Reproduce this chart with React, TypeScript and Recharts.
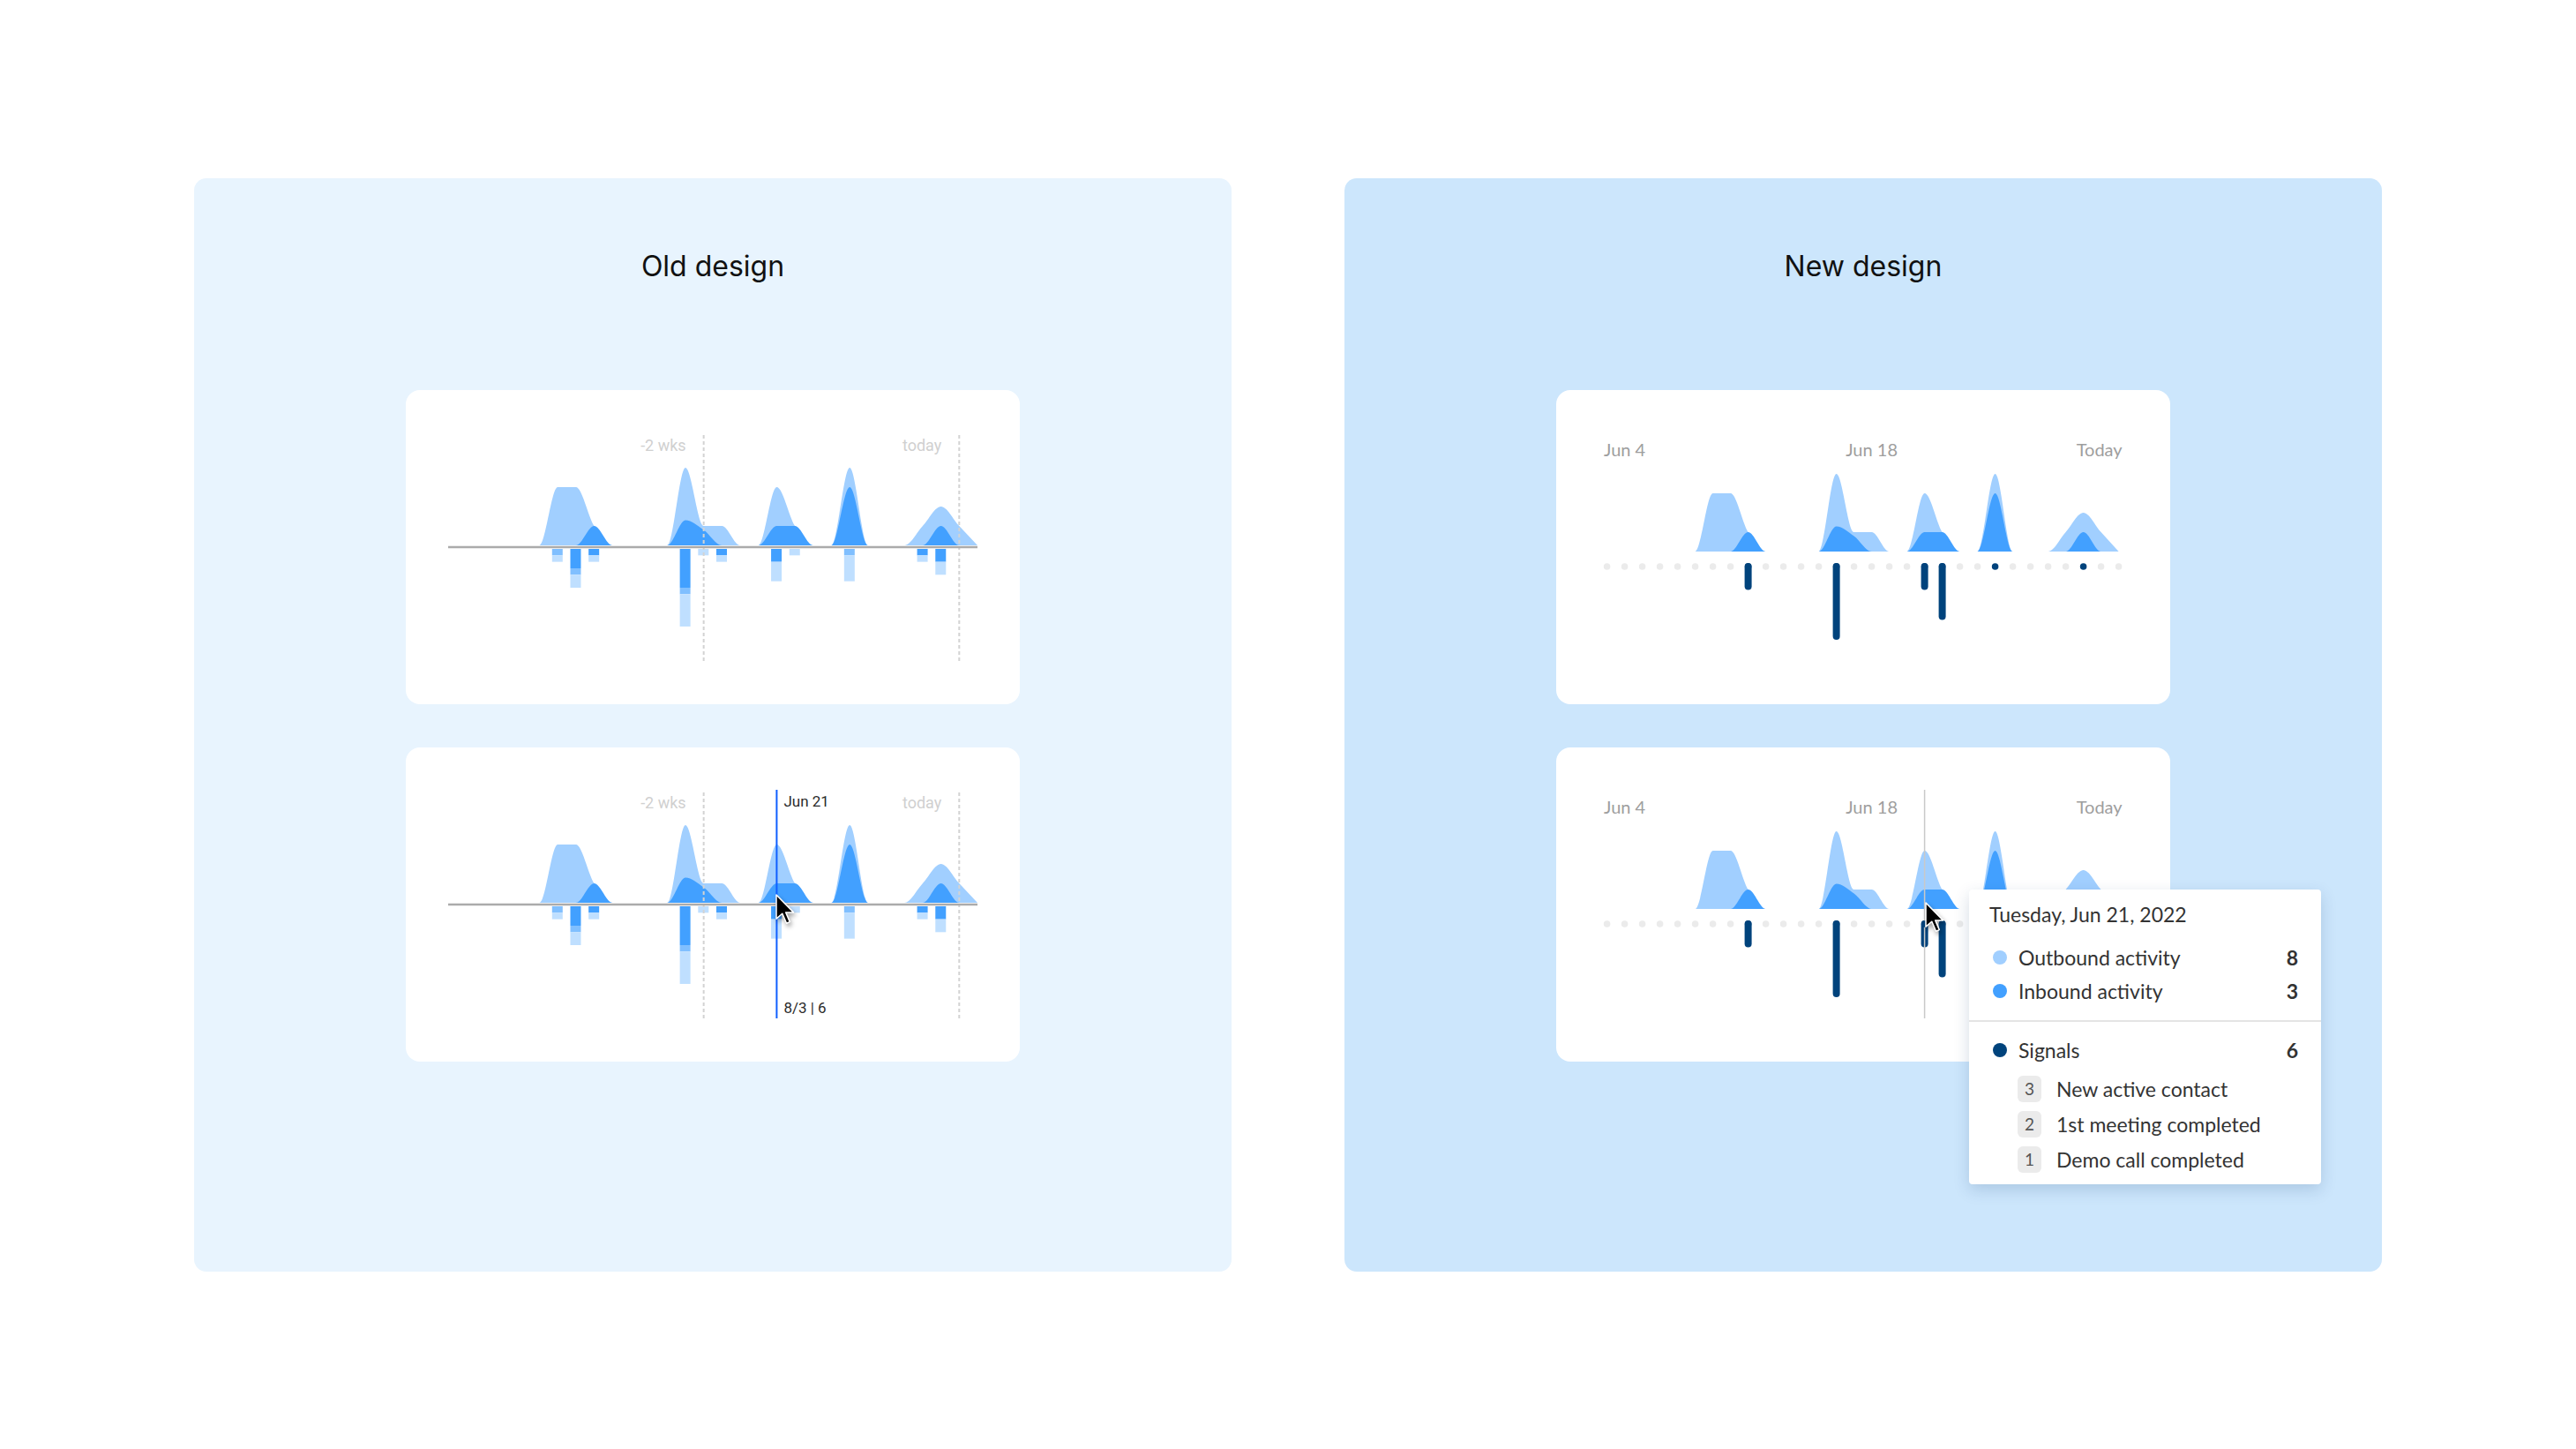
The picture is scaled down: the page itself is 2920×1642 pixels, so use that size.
import React from 'react';
import { ComposedChart, Area, Bar, Line, XAxis, YAxis, ReferenceLine } from 'recharts';

// 30 days, Jun 3 -> Jul 2 (today)
const days = [
  'Jun 3', 'Jun 4', 'Jun 5', 'Jun 6', 'Jun 7', 'Jun 8', 'Jun 9', 'Jun 10', 'Jun 11', 'Jun 12',
  'Jun 13', 'Jun 14', 'Jun 15', 'Jun 16', 'Jun 17', 'Jun 18', 'Jun 19', 'Jun 20', 'Jun 21', 'Jun 22',
  'Jun 23', 'Jun 24', 'Jun 25', 'Jun 26', 'Jun 27', 'Jun 28', 'Jun 29', 'Jun 30', 'Jul 1', 'Jul 2',
];

// activity curves (above the axis)
const outbound = [0, 0, 0, 0, 0, 0, 3, 3, 1, 0, 0, 0, 0, 4, 1, 1, 0, 0, 3, 1, 0, 0, 4, 0, 0, 0, 1, 2, 1, 0];
const inbound = [0, 0, 0, 0, 0, 0, 0, 0, 1, 0, 0, 0, 0, 1.3, 0.8, 0, 0, 0, 1, 1, 0, 0, 3, 0, 0, 0, 0, 1, 0, 0];

// old design: stacked signal bars (below the axis)
const oldDark = [0, 0, 0, 0, 0, 0, 0, 3, 1, 0, 0, 0, 0, 6, 0, 1, 0, 0, 2, 0, 0, 0, 0, 0, 0, 0, 1, 2, 0, 0];
const oldMid = [0, 0, 0, 0, 0, 0, 1, 1, 0, 0, 0, 0, 0, 1, 0, 0, 0, 0, 0, 0, 0, 0, 1, 0, 0, 0, 0, 0, 0, 0];
const oldLight = [0, 0, 0, 0, 0, 0, 1, 2, 1, 0, 0, 0, 0, 5, 1, 1, 0, 0, 3, 1, 0, 0, 4, 0, 0, 0, 1, 2, 0, 0];

// new design: signals per day
const signals = [0, 0, 0, 0, 0, 0, 0, 0, 3, 0, 0, 0, 0, 8, 0, 0, 0, 0, 3, 6, 0, 0, 1, 0, 0, 0, 0, 1, 0, 0];

const newTicks = [1, 15, 29];
const newTickLabels = ['Jun 4', 'Jun 18', 'Today'];

// hovered day (Jun 21)
const hoverIndex = 18;
const hoverDate = 'Tuesday, Jun 21, 2022';
const hoverOutbound = 8;
const hoverInbound = 3;
const hoverSignals = 6;
const signalNames = ['New active contact', '1st meeting completed', 'Demo call completed'];
const signalCounts = [3, 2, 1];

const LIGHT = '#A1CFFF';
const DARK = '#42A0FF';
const MID = '#80BFFF';
const PALE = '#BFDFFF';
const NAVY = '#00437C';

const rows = days.map((d, i) => ({
  i,
  day: d,
  out: outbound[i],
  inb: inbound[i],
  dk: -oldDark[i],
  md: -oldMid[i],
  lt: -oldLight[i],
  sig: signals[i],
  sigBar: signals[i] > 1 ? -(signals[i] - 1) : null,
  track: 0,
}));

const CARD_W = 696;
const CARD_H = 356;
const M_TOP = 48;
const M_BOTTOM = 49;
const PLOT_H = CARD_H - M_TOP - M_BOTTOM;

// domain that puts value 0 at zeroY px from the plot top
const domainFor = (zeroY: number, px: number) => [-(PLOT_H - zeroY) / px, zeroY / px];

const roboto = 'Roboto, sans-serif';
const lato = 'Lato, sans-serif';

const top = (p: any) => Math.min(p.y1, p.y2);
const bottom = (p: any) => Math.max(p.y1, p.y2);

const DashedMarker = ({ text }: { text: string }) => (p: any) => (
  <g>
    <line x1={p.x1} x2={p.x2} y1={p.y1} y2={p.y2} stroke="#D3D3D3" strokeWidth={2} strokeDasharray="4 3" />
    <text x={p.x1 - 20} y={top(p) + 14} textAnchor="end" dominantBaseline="central" fontFamily={roboto} fontSize={18} fill="#D0D0D0">
      {text}
    </text>
  </g>
);

function OldChart({ hover }: { hover?: boolean }) {
  return (
    <ComposedChart width={CARD_W} height={CARD_H} data={rows} stackOffset="sign"
      margin={{ top: M_TOP, bottom: M_BOTTOM, left: 48, right: 48 }}>
      <XAxis type="number" dataKey="i" domain={[0, 29]} hide />
      <YAxis yAxisId="act" hide domain={domainFor(128, 22)} allowDataOverflow />
      <YAxis yAxisId="sig" hide domain={domainFor(132, 7.33)} allowDataOverflow />
      <ReferenceLine yAxisId="act" x={14} shape={DashedMarker({ text: '-2 wks' })} />
      <ReferenceLine yAxisId="act" x={28} shape={DashedMarker({ text: 'today' })} />
      <Area yAxisId="act" type="monotone" dataKey="out" baseValue={0} stroke="none" fill={LIGHT} fillOpacity={1} isAnimationActive={false} />
      <Area yAxisId="act" type="monotone" dataKey="inb" baseValue={0} stroke="none" fill={DARK} fillOpacity={1} isAnimationActive={false} />
      <Bar yAxisId="sig" dataKey="dk" stackId="s" fill={DARK} barSize={12} isAnimationActive={false} />
      <Bar yAxisId="sig" dataKey="md" stackId="s" fill={MID} barSize={12} isAnimationActive={false} />
      <Bar yAxisId="sig" dataKey="lt" stackId="s" fill={PALE} barSize={12} isAnimationActive={false} />
      <ReferenceLine yAxisId="act" y={0} shape={(p: any) => (
        <line x1={p.x1} x2={p.x2} y1={p.y1 + 2} y2={p.y1 + 2} stroke="#ABABAB" strokeWidth={2.5} />
      )} />
      {hover && (
        <ReferenceLine yAxisId="act" x={hoverIndex} shape={(p: any) => (
          <g>
            <line x1={p.x1} x2={p.x2} y1={p.y1} y2={p.y2} stroke="#0F5FFF" strokeWidth={2} />
            <text x={p.x1 + 8} y={top(p) + 13} dominantBaseline="central" fontFamily={roboto} fontSize={17} fill="#2B2B2B">
              {days[hoverIndex]}
            </text>
            <text x={p.x1 + 8} y={bottom(p) - 12} dominantBaseline="central" fontFamily={roboto} fontSize={17} fill="#2B2B2B">
              {`${hoverOutbound}/${hoverInbound} | ${hoverSignals}`}
            </text>
          </g>
        )} />
      )}
    </ComposedChart>
  );
}

const renderTrackDot = (p: any) => {
  const has = p.payload && p.payload.sig > 0;
  return <circle key={`dot-${p.index}`} cx={p.cx} cy={p.cy} r={3.8} fill={has ? NAVY : '#EBEBEB'} />;
};

const SignalBar = (p: any) => {
  if (p.height == null || p.y == null) return null;
  const y0 = Math.min(p.y, p.y + p.height);
  const h = Math.abs(p.height);
  return <rect x={p.x + p.width / 2 - 4} y={y0 - 4} width={8} height={h + 8} rx={4} fill={NAVY} />;
};

// date label drawn above the plot at a tick position
const TickLabel = (k: number) => (p: any) => {
  const last = k === newTicks.length - 1;
  return (
    <text x={last ? p.x1 + 4 : p.x1} y={top(p) + 19} textAnchor={last ? 'end' : 'middle'} dominantBaseline="central"
      fontFamily={lato} fontSize={20} fill="#9E9E9E">
      {newTickLabels[k]}
    </text>
  );
};

function NewChart({ hover }: { hover?: boolean }) {
  return (
    <ComposedChart width={CARD_W} height={CARD_H} data={rows}
      margin={{ top: M_TOP, bottom: M_BOTTOM, left: 57.6, right: 58.4 }}>
      <XAxis type="number" dataKey="i" domain={[0, 29]} hide />
      <YAxis yAxisId="act" hide domain={domainFor(135, 22)} allowDataOverflow />
      <YAxis yAxisId="sig" hide domain={domainFor(152, 11.3)} allowDataOverflow />
      {newTicks.map((t, k) => (
        <ReferenceLine key={t} yAxisId="act" x={t} shape={TickLabel(k)} />
      ))}
      <Area yAxisId="act" type="monotone" dataKey="out" baseValue={0} stroke="none" fill={LIGHT} fillOpacity={1} isAnimationActive={false} />
      <Area yAxisId="act" type="monotone" dataKey="inb" baseValue={0} stroke="none" fill={DARK} fillOpacity={1} isAnimationActive={false} />
      <Line yAxisId="sig" dataKey="track" stroke="none" dot={renderTrackDot} activeDot={false} isAnimationActive={false} />
      <Bar yAxisId="sig" dataKey="sigBar" barSize={8} shape={SignalBar} isAnimationActive={false} />
      {hover && <ReferenceLine yAxisId="act" x={hoverIndex} stroke="#C9C9C9" strokeWidth={1.5} />}
    </ComposedChart>
  );
}

const Cursor = ({ x, y }: { x: number; y: number }) => (
  <svg style={{ position: 'absolute', left: x - 2, top: y - 2, overflow: 'visible' }} width={26} height={38}>
    <path transform="translate(2,2) scale(1.7)" d="M0 0 L0 16 L4 12.5 L6.8 19 L9 18 L6.3 11.7 L11.5 11.7 Z"
      fill="#000" stroke="#fff" strokeWidth={0.9} strokeLinejoin="round" style={{ filter: 'drop-shadow(1px 2px 1.5px rgba(0,0,0,0.35))' }} />
  </svg>
);

const card = (left: number, topPx: number, children: React.ReactNode) => (
  <div style={{ position: 'absolute', left, top: topPx, width: CARD_W, height: CARD_H, background: '#fff', borderRadius: 16, overflow: 'hidden' }}>
    {children}
  </div>
);

const panel = (left: number, bg: string, title: string) => (
  <div style={{ position: 'absolute', left, top: 202, width: 1176, height: 1239, background: bg, borderRadius: 14 }}>
    <div style={{ position: 'absolute', left: 0, right: 0, top: 80, textAlign: 'center', fontFamily: 'Inter, sans-serif', fontSize: 32, lineHeight: '40px', color: '#111' }}>
      {title}
    </div>
  </div>
);

const rowText: React.CSSProperties = { position: 'absolute', fontFamily: lato, fontSize: 23, lineHeight: '30px', color: '#333' };

function HoverTooltip() {
  const main = [
    { label: 'Outbound activity', value: hoverOutbound, color: LIGHT, cy: 77 },
    { label: 'Inbound activity', value: hoverInbound, color: DARK, cy: 115 },
    { label: 'Signals', value: hoverSignals, color: NAVY, cy: 182 },
  ];
  return (
    <div style={{ position: 'absolute', left: 2232, top: 1008, width: 399, height: 334, background: '#fff', borderRadius: 4,
      boxShadow: '0 6px 18px rgba(20,60,110,0.18)' }}>
      <div style={{ ...rowText, left: 23, top: 13 }}>{hoverDate}</div>
      {main.map((r) => (
        <React.Fragment key={r.label}>
          <div style={{ position: 'absolute', left: 27, top: r.cy - 8, width: 16, height: 16, borderRadius: 8, background: r.color }} />
          <div style={{ ...rowText, left: 56, top: r.cy - 15 }}>{r.label}</div>
          <div style={{ ...rowText, right: 26, top: r.cy - 15, fontWeight: 700 }}>{r.value}</div>
        </React.Fragment>
      ))}
      <div style={{ position: 'absolute', left: 0, right: 0, top: 148, height: 2, background: '#E4E4E4' }} />
      {signalNames.map((name, k) => (
        <React.Fragment key={name}>
          <div style={{ position: 'absolute', left: 55, top: 211 + k * 40, width: 27, height: 30, borderRadius: 6, background: '#EBEBEB',
            fontFamily: lato, fontSize: 19, lineHeight: '30px', textAlign: 'center', color: '#555' }}>{signalCounts[k]}</div>
          <div style={{ ...rowText, left: 99, top: 211 + k * 40 }}>{name}</div>
        </React.Fragment>
      ))}
    </div>
  );
}

export default function App() {
  return (
    <div style={{ position: 'fixed', left: 0, top: 0, width: 2920, height: 1642, background: '#fff', overflow: 'hidden' }}>
      {panel(220, '#E8F4FE', 'Old design')}
      {panel(1524, '#CCE6FC', 'New design')}
      {card(460, 442, <OldChart />)}
      {card(460, 847, <OldChart hover />)}
      {card(1764, 442, <NewChart />)}
      {card(1764, 847, <NewChart hover />)}
      <Cursor x={880} y={1014} />
      <HoverTooltip />
      <Cursor x={2183} y={1023} />
    </div>
  );
}
